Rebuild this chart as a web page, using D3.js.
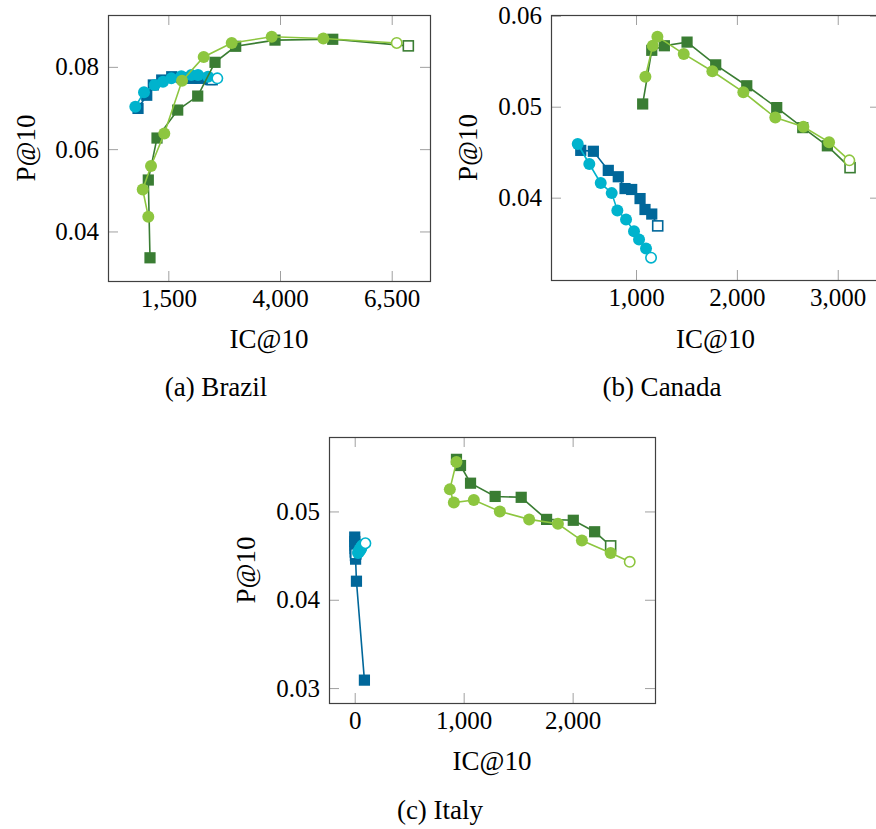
<!DOCTYPE html>
<html>
<head>
<meta charset="utf-8">
<script src="https://cdn.jsdelivr.net/npm/d3@7"></script>
<style>
  body { margin: 0; background: #fff; }
  svg { display: block; }
  text { font-family: "Liberation Serif", "DejaVu Serif", serif; fill: #000; }
</style>
</head>
<body>
<script>
// [IC@10, P@10] pairs; the last point of each series is drawn hollow
var brazilDarkGreen = [[1090,0.0336],[1052,0.0525],[1247,0.0627],[1710,0.0695],[2158,0.0729],[2545,0.0811],[3008,0.0850],[3888,0.0865],[5180,0.0867],[6872,0.0851]];
var brazilLightGreen = [[1052,0.0436],[927,0.0502],[1113,0.0559],[1410,0.0638],[1807,0.0766],[2292,0.0824],[2919,0.0858],[3814,0.0873],[4970,0.0869],[6612,0.0858]];
var brazilDarkBlue = [[822,0.0699],[1017,0.0731],[1164,0.0756],[1352,0.0768],[1576,0.0776],[1800,0.0774],[2024,0.0772],[2210,0.0772],[2434,0.0769],[2480,0.0769]];
var brazilCyan = [[761,0.0703],[956,0.0738],[1196,0.0756],[1381,0.0764],[1567,0.0772],[1791,0.0777],[2015,0.0780],[2165,0.0780],[2389,0.0776],[2597,0.0772]];

var canadaDarkGreen = [[1066,0.0503],[1156,0.0562],[1281,0.0567],[1506,0.0571],[1790,0.0546],[2098,0.0523],[2395,0.0499],[2653,0.0477],[2897,0.0457],[3122,0.0433]];
var canadaLightGreen = [[1093,0.0533],[1166,0.0567],[1212,0.0577],[1473,0.0558],[1757,0.0539],[2064,0.0516],[2381,0.0488],[2659,0.0478],[2914,0.0461],[3115,0.0441]];
var canadaDarkBlue = [[452,0.0452],[577,0.0451],[725,0.0430],[824,0.0423],[891,0.0410],[957,0.0409],[1040,0.0399],[1089,0.0387],[1156,0.0382],[1215,0.0369]];
var canadaCyan = [[422,0.0459],[537,0.0437],[650,0.0416],[759,0.0405],[815,0.0386],[901,0.0376],[980,0.0363],[1030,0.0354],[1099,0.0344],[1149,0.0334]];

var italyDarkGreen = [[934,0.0559],[971,0.0552],[1063,0.0532],[1289,0.0517],[1528,0.0516],[1761,0.0491],[2006,0.0490],[2202,0.0477],[2349,0.0461]];
var italyLightGreen = [[934,0.0556],[873,0.0525],[910,0.0510],[1093,0.0513],[1332,0.0500],[1601,0.0491],[1865,0.0486],[2085,0.0467],[2349,0.0453],[2524,0.0443]];
var italyDarkBlue = [[89,0.0309],[16,0.0421],[8,0.0446],[6,0.0450],[4,0.0454],[3,0.0458],[2,0.0462],[1,0.0466],[0,0.0471],[10,0.0452]];
var italyCyan = [[30,0.0453],[35,0.0455],[40,0.0454],[45,0.0457],[50,0.0456],[55,0.0459],[60,0.0458],[65,0.0461],[75,0.0462],[98,0.0464]];

var brazilXTicks = [1500, 4000, 6500];
var brazilYTicks = [0.04, 0.06, 0.08];
var canadaXTicks = [1000, 2000, 3000];
var canadaYTicks = [0.04, 0.05, 0.06];
var italyXTicks = [0, 1000, 2000];
var italyYTicks = [0.03, 0.04, 0.05];

var captions = ["(a) Brazil", "(b) Canada", "(c) Italy"];

var colors = {
    darkGreen: "#3a7d33",
    lightGreen: "#8dc63f",
    darkBlue: "#00679a",
    cyan: "#00b3cd"
};

var panels = [
    { left: 108, right: 430, top: 15, bottom: 281,
      xDomain: [150, 7357], yDomain: [0.02796, 0.0926],
      xTicks: brazilXTicks, yTicks: brazilYTicks,
      ylabelX: 35, xlabelY: 348, captionX: 216, captionY: 396, caption: captions[0],
      series: [["darkBlue", "square", brazilDarkBlue], ["cyan", "circle", brazilCyan],
               ["darkGreen", "square", brazilDarkGreen], ["lightGreen", "circle", brazilLightGreen]] },
    { left: 551, right: 880, top: 15, bottom: 280,
      xDomain: [157, 3419], yDomain: [0.03095, 0.06008],
      xTicks: canadaXTicks, yTicks: canadaYTicks,
      ylabelX: 477, xlabelY: 348, captionX: 662, captionY: 396, caption: captions[1],
      series: [["darkBlue", "square", canadaDarkBlue], ["cyan", "circle", canadaCyan],
               ["darkGreen", "square", canadaDarkGreen], ["lightGreen", "circle", canadaLightGreen]] },
    { left: 329, right: 655, top: 437, bottom: 703,
      xDomain: [-236, 2756], yDomain: [0.02831, 0.05843],
      xTicks: italyXTicks, yTicks: italyYTicks,
      ylabelX: 255, xlabelY: 770, captionX: 440, captionY: 819, caption: captions[2],
      series: [["darkBlue", "square", italyDarkBlue], ["cyan", "circle", italyCyan],
               ["darkGreen", "square", italyDarkGreen], ["lightGreen", "circle", italyLightGreen]] }
];

var svg = d3.select("body")
    .append("svg")
    .attr("width", 876)
    .attr("height", 829);

var tickLen = 10;
var tickFont = 25;
var labelFont = 27;

panels.forEach(function(p) {
    var x = d3.scaleLinear().domain(p.xDomain).range([p.left, p.right]);
    var y = d3.scaleLinear().domain(p.yDomain).range([p.bottom, p.top]);
    var g = svg.append("g");

    // ticks on all four sides, pointing inwards
    var xb = g.append("g").attr("transform", "translate(0," + p.bottom + ")")
        .call(d3.axisBottom(x).tickValues(p.xTicks).tickSize(-tickLen).tickPadding(8).tickFormat(d3.format(",")));
    var xt = g.append("g").attr("transform", "translate(0," + p.top + ")")
        .call(d3.axisTop(x).tickValues(p.xTicks).tickSize(-tickLen).tickFormat(""));
    var yl = g.append("g").attr("transform", "translate(" + p.left + ",0)")
        .call(d3.axisLeft(y).tickValues(p.yTicks).tickSize(-tickLen).tickPadding(9).tickFormat(d3.format(".2f")));
    var yr = g.append("g").attr("transform", "translate(" + p.right + ",0)")
        .call(d3.axisRight(y).tickValues(p.yTicks).tickSize(-tickLen).tickFormat(""));

    [xb, xt, yl, yr].forEach(function(a) {
        a.select(".domain").remove();
        a.selectAll(".tick line").attr("stroke", "#a0a0a0").attr("stroke-width", 1);
        a.selectAll(".tick text")
            .attr("font-size", tickFont)
            .attr("font-family", "Liberation Serif")
            .attr("fill", "#000");
    });

    g.append("rect")
        .attr("x", p.left + 0.5)
        .attr("y", p.top + 0.5)
        .attr("width", p.right - p.left)
        .attr("height", p.bottom - p.top)
        .attr("fill", "none")
        .attr("stroke", "#404040")
        .attr("stroke-width", 1.2);

    var line = d3.line()
        .x(function(d) { return x(d[0]); })
        .y(function(d) { return y(d[1]); });

    p.series.forEach(function(s) {
        var col = colors[s[0]];
        var pts = s[2];
        var sg = g.append("g");
        sg.append("path")
            .datum(pts)
            .attr("d", line)
            .attr("fill", "none")
            .attr("stroke", col)
            .attr("stroke-width", 1.6);

        var last = pts.length - 1;
        if (s[1] === "circle") {
            sg.selectAll("circle")
                .data(pts)
                .enter()
                .append("circle")
                .attr("cx", function(d) { return x(d[0]); })
                .attr("cy", function(d) { return y(d[1]); })
                .attr("r", function(d, i) { return i === last ? 5.2 : 6; })
                .attr("fill", function(d, i) { return i === last ? "#fff" : col; })
                .attr("stroke", col)
                .attr("stroke-width", function(d, i) { return i === last ? 1.6 : 0; });
        } else {
            sg.selectAll("rect")
                .data(pts)
                .enter()
                .append("rect")
                .attr("x", function(d, i) { return x(d[0]) - (i === last ? 5 : 5.6); })
                .attr("y", function(d, i) { return y(d[1]) - (i === last ? 5 : 5.6); })
                .attr("width", function(d, i) { return i === last ? 10 : 11.2; })
                .attr("height", function(d, i) { return i === last ? 10 : 11.2; })
                .attr("fill", function(d, i) { return i === last ? "#fff" : col; })
                .attr("stroke", col)
                .attr("stroke-width", function(d, i) { return i === last ? 1.6 : 0; });
        }
    });

    g.append("text")
        .attr("x", (p.left + p.right) / 2)
        .attr("y", p.xlabelY)
        .attr("text-anchor", "middle")
        .attr("font-size", labelFont)
        .text("IC@10");

    g.append("text")
        .attr("transform", "translate(" + p.ylabelX + "," + (p.top + p.bottom) / 2 + ") rotate(-90)")
        .attr("text-anchor", "middle")
        .attr("font-size", labelFont)
        .text("P@10");

    g.append("text")
        .attr("x", p.captionX)
        .attr("y", p.captionY)
        .attr("text-anchor", "middle")
        .attr("font-size", labelFont)
        .text(p.caption);
});
</script>
</body>
</html>
